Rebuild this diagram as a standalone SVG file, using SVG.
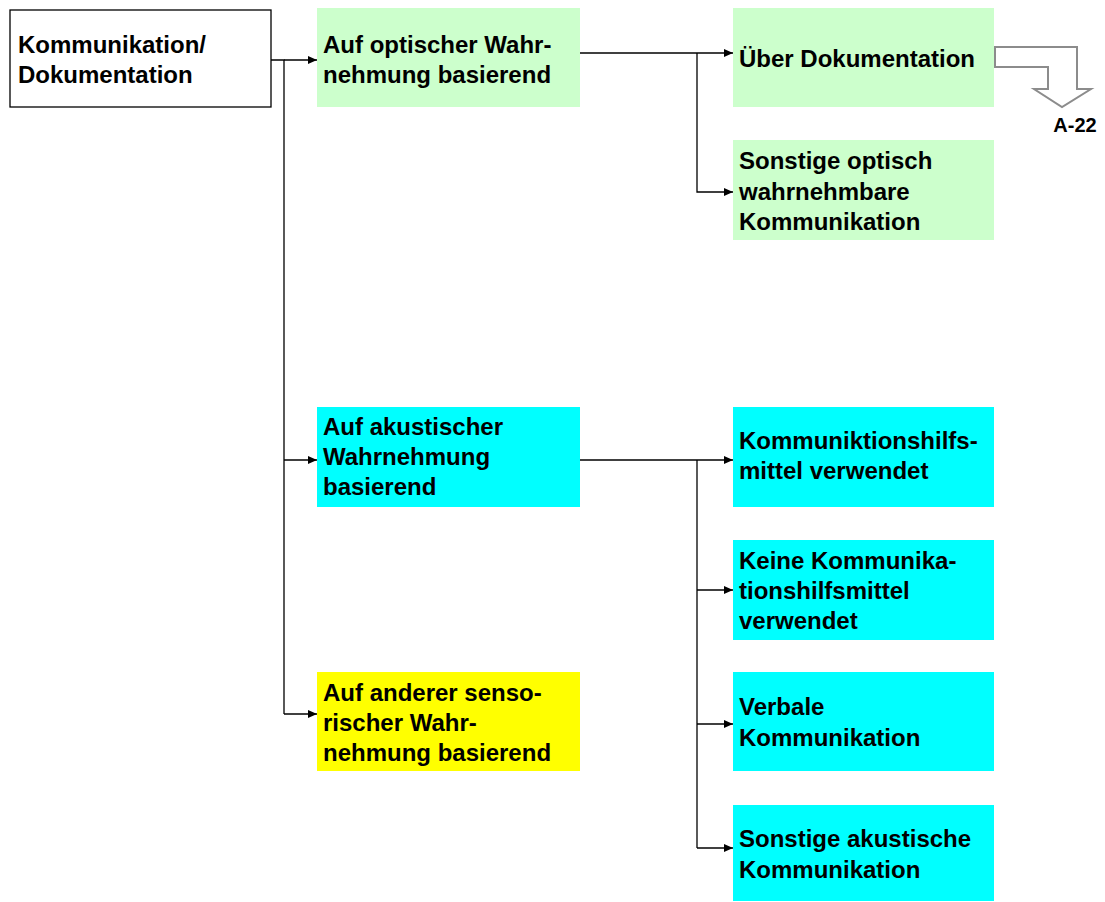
<svg xmlns="http://www.w3.org/2000/svg" width="1105" height="902" viewBox="0 0 1105 902">
  <style>
    .lbl { font-family: "Liberation Sans", Arial, sans-serif; font-size: 24px; font-weight: bold; fill: #000; }
    .small { font-size: 20px; }
    .green { fill: #CCFFCC; }
    .cyan { fill: #00FFFF; }
    .yellow { fill: #FFFF00; }
    .root { fill: #fff; stroke: #000; stroke-width: 1.3; }
    .wire { fill: none; stroke: #000; stroke-width: 1.3; }
    .block { fill: #fff; stroke: #8c8c8c; stroke-width: 2; stroke-linejoin: miter; }
  </style>
  <defs>
    <marker id="tip" markerWidth="9" markerHeight="8" refX="9" refY="4" orient="auto" markerUnits="userSpaceOnUse">
      <path d="M0,0 L9,4 L0,8 Z" fill="#000"/>
    </marker>
  </defs>
  <rect width="1105" height="902" fill="#fff"/>

  <g id="connectors">
    <!-- root to first level -->
    <path class="wire" d="M271,60 H284 V714"/>
    <path class="wire" d="M284,60 H317" marker-end="url(#tip)"/>
    <path class="wire" d="M284,460 H317" marker-end="url(#tip)"/>
    <path class="wire" d="M284,714 H317" marker-end="url(#tip)"/>
    <!-- optical branch -->
    <path class="wire" d="M580,53 H733" marker-end="url(#tip)"/>
    <path class="wire" d="M697,53 V192 H733" marker-end="url(#tip)"/>
    <!-- acoustic branch -->
    <path class="wire" d="M580,460 H733" marker-end="url(#tip)"/>
    <path class="wire" d="M697,460 V848"/>
    <path class="wire" d="M697,590 H733" marker-end="url(#tip)"/>
    <path class="wire" d="M697,724 H733" marker-end="url(#tip)"/>
    <path class="wire" d="M697,848 H733" marker-end="url(#tip)"/>
  </g>

  <g id="root">
    <rect class="root" x="10" y="10" width="261" height="97"/>
    <text class="lbl" x="18" y="53">Kommunikation/</text>
    <text class="lbl" x="18" y="83">Dokumentation</text>
  </g>

  <g id="optisch">
    <rect class="green" x="317" y="8" width="263" height="99"/>
    <text class="lbl" x="323" y="53">Auf optischer Wahr-</text>
    <text class="lbl" x="323" y="83">nehmung basierend</text>
  </g>

  <g id="dokumentation">
    <rect class="green" x="733" y="8" width="261" height="99"/>
    <text class="lbl" x="739" y="67">Über Dokumentation</text>
  </g>

  <g id="verweis-a22">
    <path class="block" d="M995,47 H1077 V89 H1091 L1062,107 L1034,89 H1048 V67 H995 Z"/>
    <text class="lbl small" x="1075" y="132" text-anchor="middle">A-22</text>
  </g>

  <g id="sonstige-optisch">
    <rect class="green" x="733" y="140" width="261" height="100"/>
    <text class="lbl" x="739" y="169">Sonstige optisch</text>
    <text class="lbl" x="739" y="200">wahrnehmbare</text>
    <text class="lbl" x="739" y="230">Kommunikation</text>
  </g>

  <g id="akustisch">
    <rect class="cyan" x="317" y="407" width="263" height="100"/>
    <text class="lbl" x="323" y="435">Auf akustischer</text>
    <text class="lbl" x="323" y="465">Wahrnehmung</text>
    <text class="lbl" x="323" y="495">basierend</text>
  </g>

  <g id="hilfsmittel">
    <rect class="cyan" x="733" y="407" width="261" height="100"/>
    <text class="lbl" x="739" y="449">Kommuniktionshilfs-</text>
    <text class="lbl" x="739" y="479">mittel verwendet</text>
  </g>

  <g id="keine-hilfsmittel">
    <rect class="cyan" x="733" y="540" width="261" height="100"/>
    <text class="lbl" x="739" y="569">Keine Kommunika-</text>
    <text class="lbl" x="739" y="599">tionshilfsmittel</text>
    <text class="lbl" x="739" y="629">verwendet</text>
  </g>

  <g id="verbal">
    <rect class="cyan" x="733" y="672" width="261" height="99"/>
    <text class="lbl" x="739" y="715">Verbale</text>
    <text class="lbl" x="739" y="746">Kommunikation</text>
  </g>

  <g id="sonstige-akustisch">
    <rect class="cyan" x="733" y="805" width="261" height="96"/>
    <text class="lbl" x="739" y="847">Sonstige akustische</text>
    <text class="lbl" x="739" y="878">Kommunikation</text>
  </g>

  <g id="sensorisch">
    <rect class="yellow" x="317" y="672" width="263" height="99"/>
    <text class="lbl" x="323" y="701">Auf anderer senso-</text>
    <text class="lbl" x="323" y="731">rischer Wahr-</text>
    <text class="lbl" x="323" y="761">nehmung basierend</text>
  </g>
</svg>
